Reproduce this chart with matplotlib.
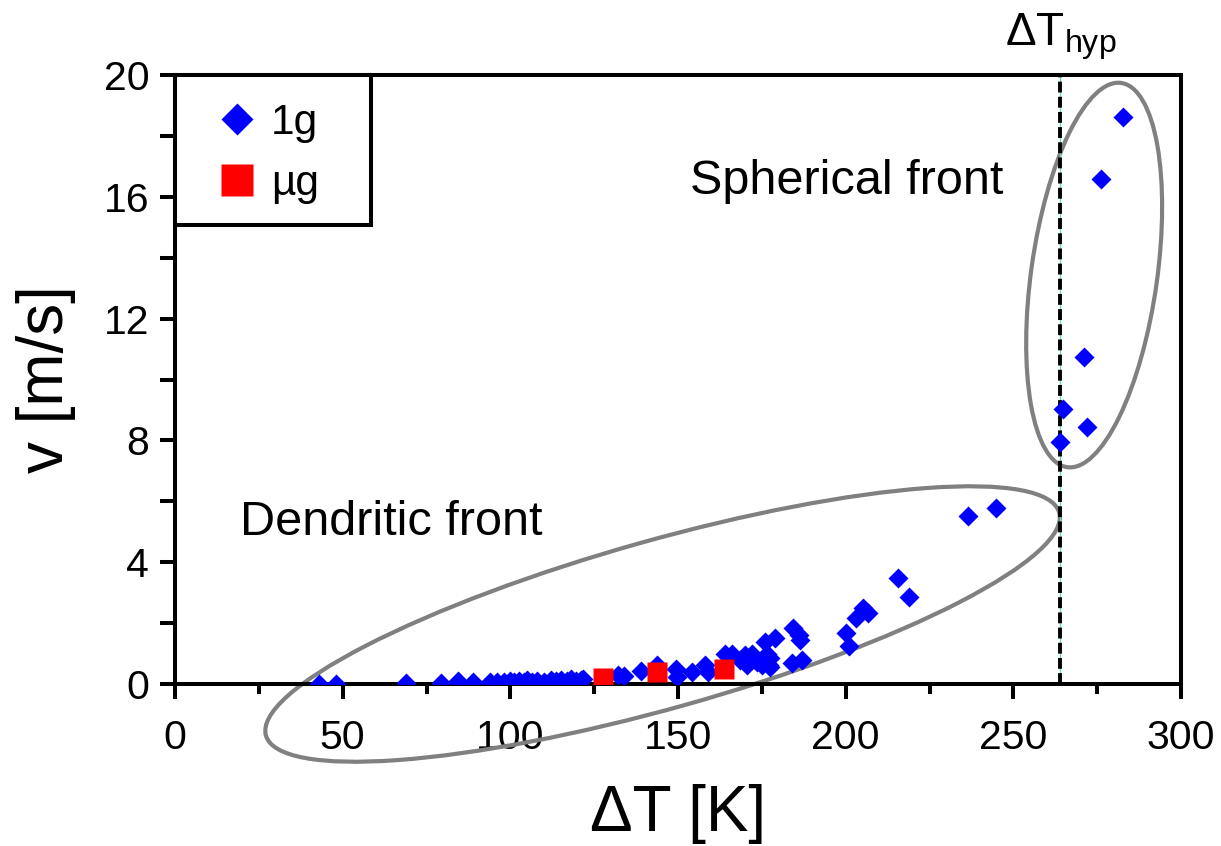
import matplotlib
matplotlib.use("Agg")
import matplotlib.pyplot as plt
from matplotlib.patches import Ellipse, Rectangle
from matplotlib.lines import Line2D
from matplotlib.transforms import ScaledTranslation
from matplotlib.ticker import MultipleLocator

plt.rcParams['font.family'] = ['Liberation Sans', 'DejaVu Sans']
plt.rcParams['mathtext.fontset'] = 'custom'
plt.rcParams['mathtext.rm'] = 'Liberation Sans'
plt.rcParams['mathtext.it'] = 'Liberation Sans:italic'

# ---- data ----
dT_1g = [43, 48, 69, 79.3, 84.4, 88.9, 94, 96, 98, 100, 101, 102.5, 104, 105, 106.5,
         108, 110, 112, 113.5, 115, 117, 118, 119.5, 121, 121.7, 132, 134, 139, 143.7,
         149.4, 149.7, 154.2, 158, 159, 164, 166, 168.5, 170, 170.5, 172, 173.5, 175,
         176, 176.5, 177, 177.4, 177.5, 179, 184, 184.3, 186, 186.4, 187, 200, 201,
         203, 205.2, 206.7, 215.6, 219, 236.5, 244.8, 264, 264.9, 271.1, 272, 276.1,
         282.7]
v_1g = [0.0, 0.0, 0.03, 0.04, 0.1, 0.05, 0.05, 0.08, 0.06, 0.1, 0.05, 0.09, 0.07, 0.12,
        0.08, 0.1, 0.07, 0.12, 0.09, 0.13, 0.1, 0.15, 0.11, 0.14, 0.16, 0.3, 0.26, 0.43,
        0.62, 0.49, 0.23, 0.4, 0.62, 0.4, 1.0, 1.0, 0.79, 0.95, 0.62, 1.0, 0.73, 0.62,
        1.38, 1.0, 0.62, 0.85, 0.56, 1.5, 0.69, 1.84, 1.6, 1.45, 0.79, 1.67, 1.25,
        2.17, 2.5, 2.33, 3.48, 2.86, 5.52, 5.78, 7.95, 9.03, 10.74, 8.44, 16.6, 18.62]
dT_ug = [127.6, 143.8, 163.7]
v_ug = [0.2, 0.39, 0.49]

dT_hyp = 264
x_ticks = [0, 50, 100, 150, 200, 250, 300]
y_ticks = [0, 4, 8, 12, 16, 20]

fig = plt.figure(figsize=(12.21, 8.46), dpi=100)
ax = fig.add_axes([175/1221, (846-684)/846, 1006/1221, 609/846])

ax.set_xlim(0, 300)
ax.set_ylim(0, 20)

ax.plot(dT_1g, v_1g, ls='none', marker='D', ms=10.3, color='#0000FF', mec='none', zorder=4)
ax.plot(dT_ug, v_ug, ls='none', marker='s', ms=14.5, color='#FF0000', mec='none', zorder=5)

# hypercooling line
ax.axvline(dT_hyp, color='#66d9b8', lw=0.9, zorder=3)
ax.axvline(dT_hyp, color='black', lw=2.8, ls=(0, (2.8, 1.1)), zorder=3)
ax.text(dT_hyp, 20.98, r'ΔT$_{\mathrm{hyp}}$', ha='center', va='baseline',
        fontsize=33, clip_on=False)

# ellipses (sizes in inches, centres in data units)
def add_ellipse(cx, cy, a_px, b_px, ang):
    e = Ellipse((0, 0), 2*a_px/100, 2*b_px/100, angle=ang, fill=False,
                edgecolor='#808080', lw=3.0,
                transform=fig.dpi_scale_trans + ScaledTranslation(cx, cy, ax.transData),
                clip_on=False, zorder=2)
    ax.add_patch(e)

add_ellipse(145.4, 1.97, 412, 84, 15.7)
add_ellipse(274.1, 13.43, 194, 63, 82)

ax.text(19.3, 4.88, 'Dendritic front', fontsize=35, ha='left', va='baseline')
ax.text(153.6, 16.08, 'Spherical front', fontsize=35, ha='left', va='baseline')

# axes styling
for s in ax.spines.values():
    s.set_linewidth(2.9)
    s.set_color('black')
ax.set_xticks(x_ticks)
ax.xaxis.set_minor_locator(MultipleLocator(25))
ax.set_yticks(y_ticks)
ax.yaxis.set_minor_locator(MultipleLocator(2))
ax.tick_params(axis='x', which='major', length=10.5, width=2.9, labelsize=29.5, pad=15)
ax.tick_params(axis='x', which='minor', length=7, width=2.9)
ax.tick_params(axis='y', which='both', length=10.5, width=2.9, labelsize=29.5, pad=8)

ax.set_xlabel('ΔT [K]', fontsize=46, labelpad=19)
ax.set_ylabel('v [m/s]', fontsize=46, labelpad=20)

# legend
ax.add_patch(Rectangle((0, 1 - (225-75)/609), (371-175)/1006, (225-75)/609,
                       transform=ax.transAxes, fill=True, facecolor='white',
                       edgecolor='black', lw=2.9, zorder=6, clip_on=False))
handles = [Line2D([], [], ls='none', marker='D', ms=16.5, color='#0000FF', mec='none'),
           Line2D([], [], ls='none', marker='s', ms=22.5, color='#FF0000', mec='none')]
leg = ax.legend(handles, ['1g', 'µg'], loc='upper left',
                bbox_to_anchor=((216-175)/1006, 1 - (103-75)/609), borderaxespad=0,
                borderpad=0, frameon=False, fontsize=30.5, handlelength=1.0,
                handletextpad=0.3, labelspacing=0.5)
leg.set_zorder(7)

fig.savefig('out.png', dpi=100)
